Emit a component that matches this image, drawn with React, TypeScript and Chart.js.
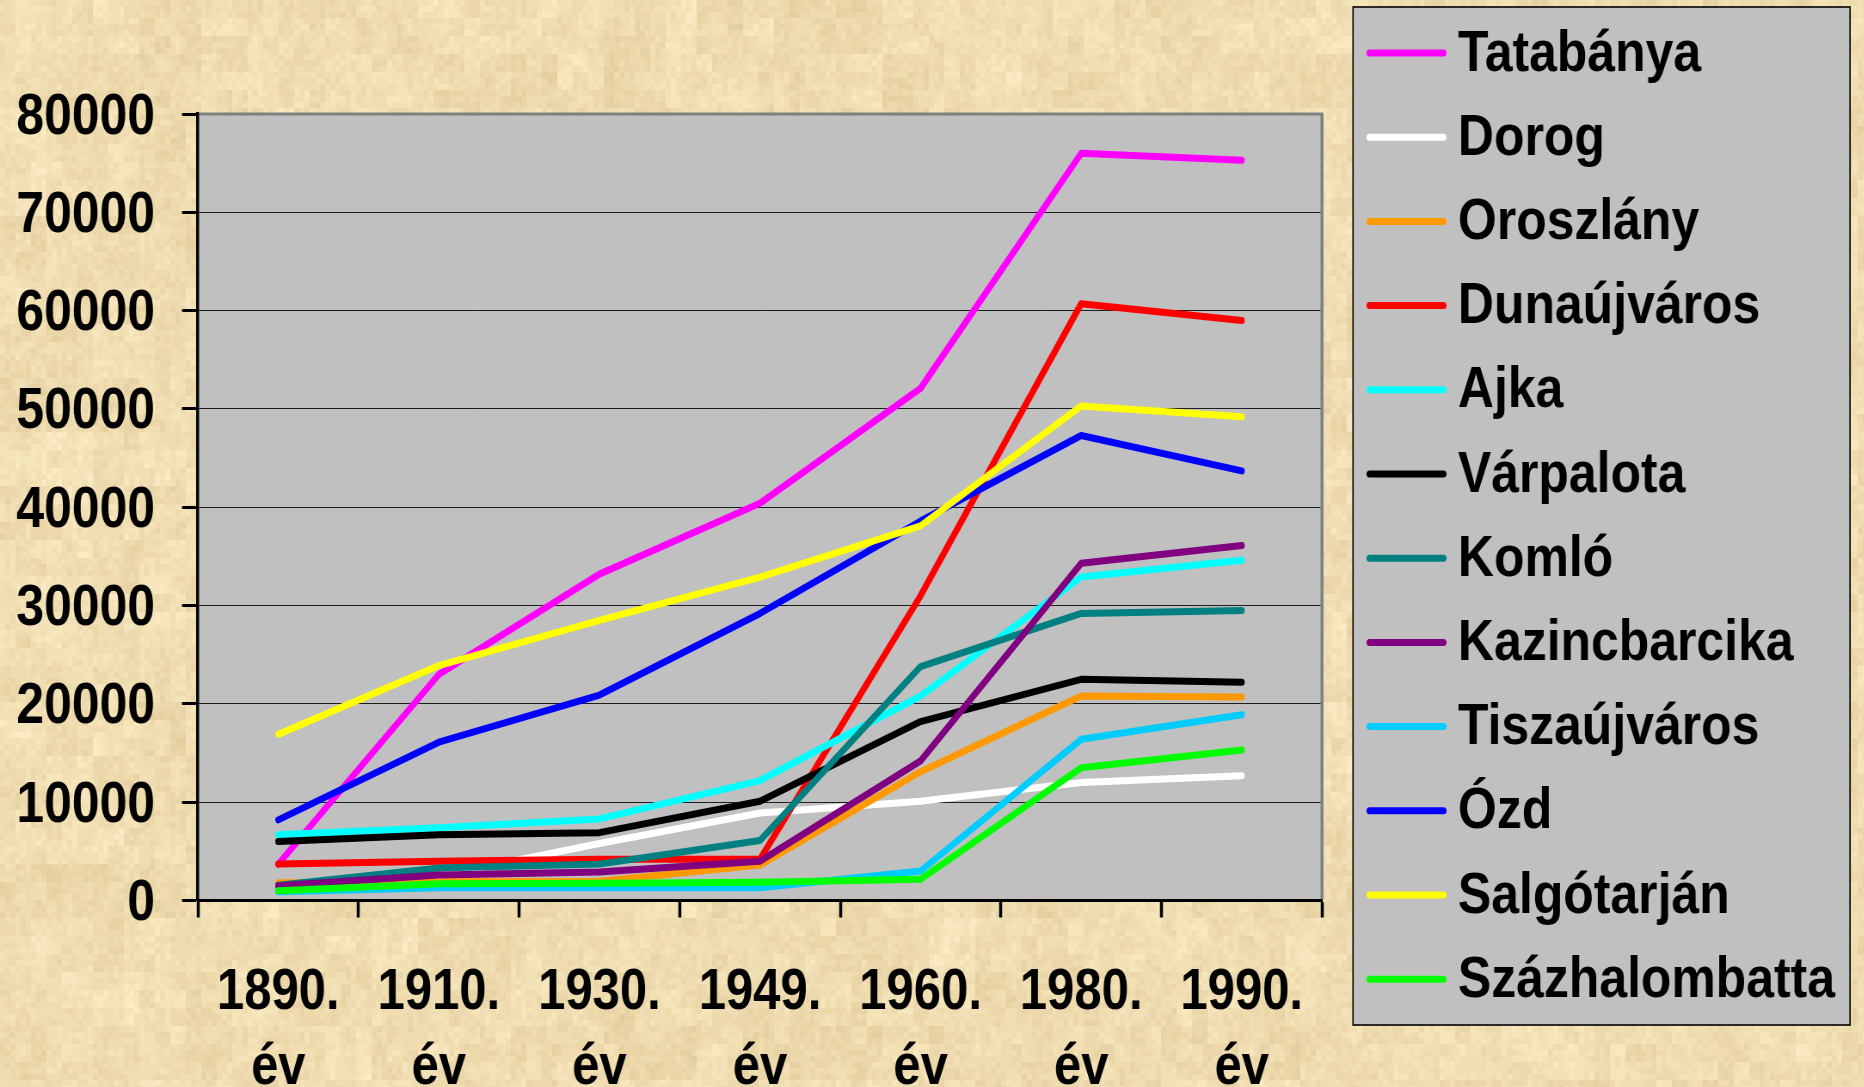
import React, { useEffect, useRef } from 'react';
import { Chart, registerables } from 'chart.js';

Chart.register(...registerables);

// ---- data ----
const years = ['1890.', '1910.', '1930.', '1949.', '1960.', '1980.', '1990.'];
const yearSuffix = 'év';

const tatabanya = [3700, 23000, 33200, 40400, 52100, 76000, 75300];
const dorog = [1700, 2500, 5800, 8900, 10100, 12000, 12700];
const oroszlany = [1800, 1900, 1950, 3600, 13100, 20800, 20700];
const dunaujvaros = [3700, 4000, 4200, 4200, 31000, 60700, 59000];
const ajka = [6700, 7400, 8300, 12200, 20800, 32900, 34600];
const varpalota = [6000, 6700, 6900, 10100, 18200, 22500, 22200];
const komlo = [1550, 3300, 3700, 6100, 23800, 29200, 29500];
const kazincbarcika = [1500, 2600, 2900, 4000, 14200, 34300, 36100];
const tiszaujvaros = [900, 1300, 1300, 1300, 3000, 16400, 18900];
const ozd = [8200, 16100, 20900, 29200, 38600, 47300, 43700];
const salgotarjan = [16900, 23900, 28500, 32900, 38100, 50300, 49200];
const szazhalombatta = [1000, 1700, 1750, 1850, 2150, 13500, 15300];

const seriesNames = [
  'Tatabánya', 'Dorog', 'Oroszlány', 'Dunaújváros', 'Ajka', 'Várpalota',
  'Komló', 'Kazincbarcika', 'Tiszaújváros', 'Ózd', 'Salgótarján', 'Százhalombatta',
];
const seriesValues = [
  tatabanya, dorog, oroszlany, dunaujvaros, ajka, varpalota,
  komlo, kazincbarcika, tiszaujvaros, ozd, salgotarjan, szazhalombatta,
];
const seriesColors = [
  '#FF00FF', '#FFFFFF', '#FF9900', '#FF0000', '#00FFFF', '#000000',
  '#008080', '#800080', '#00CCFF', '#0000FF', '#FFFF00', '#00FF00',
];

const yMin = 0;
const yMax = 80000;
const yStep = 10000;

// ---- layout (logical canvas is horizontally compressed by SX) ----
const SX = 0.86;
const W = 2168;
const H = 1087;
const FONT = '"Liberation Sans", Arial, Helvetica, sans-serif';

function hash(i: number, j: number) {
  const s = Math.sin(i * 127.1 + j * 311.7) * 43758.5453;
  return s - Math.floor(s);
}

const backgroundPlugin = {
  id: 'parchment',
  beforeDraw(chart: any) {
    const ctx = chart.ctx;
    ctx.save();
    ctx.fillStyle = '#EFDAAE';
    ctx.fillRect(0, 0, W, H);
    const bs = 6;
    const nx = Math.ceil(W / bs);
    const ny = Math.ceil(H / bs);
    for (let by = 0; by < ny; by++) {
      for (let bx = 0; bx < nx; bx++) {
        const n1 = hash(bx, by);
        const n2 = hash(Math.floor(bx / 3) + 77, Math.floor(by / 3) + 1000);
        const n3 = hash(Math.floor(bx / 9) + 500, Math.floor(by / 9) + 33);
        const t = 0.35 * n1 + 0.35 * n2 + 0.3 * n3 - 0.5;
        const r = 240 + t * 26;
        const g = 221 + t * 32;
        const b = 177 + t * 42;
        ctx.fillStyle = `rgb(${r | 0},${g | 0},${b | 0})`;
        ctx.fillRect(bx * bs, by * bs, bs, bs);
      }
    }
    const a = chart.chartArea;
    ctx.fillStyle = '#C0C0C0';
    ctx.fillRect(a.left, a.top, a.right - a.left, a.bottom - a.top);
    ctx.restore();
  },
  beforeDatasetsDraw(chart: any) {
    const ctx = chart.ctx;
    const a = chart.chartArea;
    ctx.save();
    ctx.strokeStyle = '#808080';
    ctx.lineWidth = 3;
    ctx.beginPath();
    ctx.moveTo(a.left + 1.8, a.top);
    ctx.lineTo(a.right + 1.7, a.top);
    ctx.stroke();
    ctx.lineWidth = 3.5;
    ctx.beginPath();
    ctx.moveTo(a.right, a.top);
    ctx.lineTo(a.right, a.bottom - 1.5);
    ctx.stroke();
    ctx.restore();
  },
};

const legendPlugin = {
  id: 'boxLegend',
  afterDraw(chart: any) {
    const ctx = chart.ctx;
    const L = 1353 / SX;
    const R = 1850 / SX;
    const T = 7;
    const B = 1025;
    ctx.save();
    ctx.fillStyle = '#C0C0C0';
    ctx.fillRect(L, T, R - L, B - T);
    ctx.strokeStyle = '#000000';
    ctx.lineWidth = 1.6;
    ctx.strokeRect(L, T, R - L, B - T);
    chart.data.datasets.forEach((ds: any, i: number) => {
      const y = 53 + i * 84.2;
      ctx.strokeStyle = ds.borderColor;
      ctx.lineWidth = 7;
      ctx.lineCap = 'round';
      ctx.beginPath();
      ctx.moveTo(1369.5 / SX, y);
      ctx.lineTo(1443.5 / SX, y);
      ctx.stroke();
      ctx.fillStyle = '#000000';
      ctx.font = `bold 58px ${FONT}`;
      ctx.textBaseline = 'middle';
      ctx.textAlign = 'left';
      ctx.fillText(ds.label, 1458 / SX, y + 1.5);
    });
    ctx.restore();
  },
};

export default function App() {
  const canvasRef = useRef<HTMLCanvasElement | null>(null);

  useEffect(() => {
    document.body.style.margin = '0';
    document.body.style.overflow = 'hidden';
    const canvas = canvasRef.current;
    if (!canvas) return;

    const datasets = seriesNames.map((name, i) => ({
      label: name,
      data: seriesValues[i],
      borderColor: seriesColors[i],
      backgroundColor: seriesColors[i],
      borderWidth: 7,
      pointRadius: 0,
      pointHoverRadius: 0,
      fill: false,
      tension: 0,
      borderCapStyle: 'round' as const,
      borderJoinStyle: 'round' as const,
      order: seriesNames.length - i,
    }));

    const chart = new Chart(canvas, {
      type: 'line',
      data: {
        labels: years.map((y) => [y, yearSuffix]),
        datasets,
      },
      options: {
        responsive: false,
        animation: false,
        devicePixelRatio: 1,
        layout: { padding: { top: 114, right: W - 1322 / SX, left: 0, bottom: 0 } },
        plugins: {
          legend: { display: false },
          tooltip: { enabled: false },
          title: { display: false },
        },
        scales: {
          x: {
            type: 'category',
            offset: true,
            afterFit: (scale: any) => {
              scale.height = H - 900.5;
            },
            grid: {
              display: true,
              drawOnChartArea: false,
              drawTicks: true,
              offset: true,
              tickLength: 17,
              tickWidth: 3.5,
              tickColor: '#000000',
            },
            border: { display: true, color: '#000000', width: 3 },
            ticks: {
              color: '#000000',
              font: { family: FONT, size: 57, weight: 'bold', lineHeight: 1.316 },
              padding: 38,
              maxRotation: 0,
              minRotation: 0,
              autoSkip: false,
            },
          },
          y: {
            min: yMin,
            max: yMax,
            afterFit: (scale: any) => {
              scale.width = 198 / SX;
            },
            grid: {
              color: 'rgba(0,0,0,0.85)',
              lineWidth: 1,
              tickLength: 18.6,
              tickWidth: 3,
              tickColor: '#000000',
            },
            border: { display: true, color: '#000000', width: 3.5 },
            ticks: {
              stepSize: yStep,
              color: '#000000',
              font: { family: FONT, size: 58, weight: 'bold' },
              padding: 31.4,
              labelOffset: 3.5,
              callback: (v: any) => String(v),
            },
          },
        },
      },
      plugins: [backgroundPlugin, legendPlugin],
    });

    return () => {
      chart.destroy();
    };
  }, []);

  return (
    <div style={{ width: 1864, height: 1087, overflow: 'hidden', position: 'relative' }}>
      <div
        style={{
          position: 'absolute',
          left: 0,
          top: 0,
          width: W,
          height: H,
          transform: `scaleX(${SX})`,
          transformOrigin: '0 0',
        }}
      >
        <canvas ref={canvasRef} width={W} height={H} style={{ display: 'block' }} />
      </div>
    </div>
  );
}
